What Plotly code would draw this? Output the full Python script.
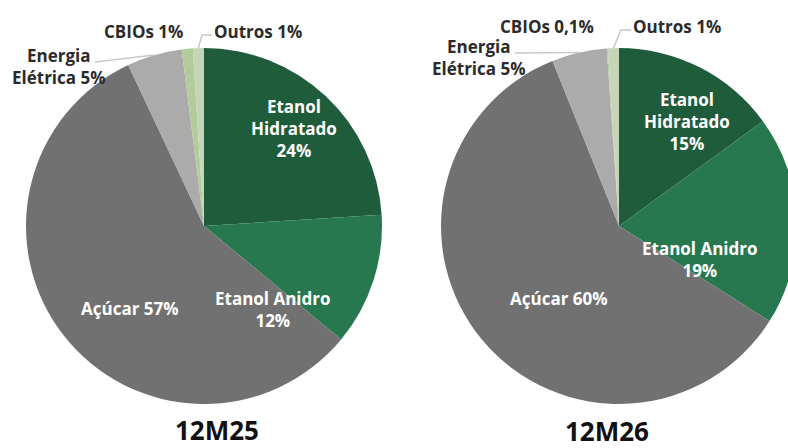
import math
import plotly.graph_objects as go

# ---------------- data ----------------
categories = ["Etanol Hidratado", "Etanol Anidro", "Açúcar", "Energia Elétrica", "CBIOs", "Outros"]
values_12m25 = [24, 12, 57, 5, 1, 1]
values_12m26 = [15, 19, 60, 5, 0.1, 1]
label_text_12m25 = ["Etanol<br>Hidratado<br>24%", "Etanol Anidro<br>12%", "Açúcar 57%",
                    "Energia<br>Elétrica 5%", "CBIOs 1%", "Outros 1%"]
label_text_12m26 = ["Etanol<br>Hidratado<br>15%", "Etanol Anidro<br>19%", "Açúcar 60%",
                    "Energia<br>Elétrica 5%", "CBIOs 0,1%", "Outros 1%"]
titles = ["12M25", "12M26"]

colors = ["#1f5c3c", "#27784e", "#717171", "#ababab", "#b3cc9b", "#c6d4b8"]

W, H = 800, 448
FONT = "Open Sans"

def px_x(x):
    return x / W

def px_y(y):
    return 1 - y / H

# pie geometry (pixels): centre and radius
pies = [
    dict(cx=204, cy=226, r=178, vals=values_12m25, txt=label_text_12m25, title=titles[0],
         lab=[(294, 128), (273, 309), (130, 308), (59, 67), (143, 32), (258, 32)],
         tpos=(217, 430)),
    dict(cx=619, cy=226, r=178, vals=values_12m26, txt=label_text_12m26, title=titles[1],
         lab=[(687, 121), (700, 259), (559, 298), (479, 58), (547, 27), (677, 27)],
         tpos=(607, 431)),
]

fig = go.Figure()
annotations = []
shapes = []

for p in pies:
    fig.add_trace(go.Pie(
        labels=categories, values=p["vals"], sort=False, direction="clockwise", rotation=0,
        marker=dict(colors=colors, line=dict(width=0)), textinfo="none", showlegend=False,
        hoverinfo="label+percent",
        domain=dict(x=[px_x(p["cx"] - p["r"]), px_x(p["cx"] + p["r"])],
                    y=[px_y(p["cy"] + p["r"]), px_y(p["cy"] - p["r"])]),
    ))
    total = sum(p["vals"])
    cum = 0
    mids = []
    for v in p["vals"]:
        mids.append((cum + v / 2) / total * 2 * math.pi)
        cum += v
    for i, (t, (lx, ly)) in enumerate(zip(p["txt"], p["lab"])):
        inside = i < 3
        annotations.append(dict(
            x=px_x(lx), y=px_y(ly), xref="paper", yref="paper", text=t, showarrow=False,
            xanchor="center", yanchor="middle", align="center",
            font=dict(family=FONT, size=17, color="white" if inside else "#2b2b2b", weight="bold"),
        ))
    # leader lines: Energia Elétrica and Outros
    def edge(i, rr=1.0):
        a = mids[i]
        return p["cx"] + rr * p["r"] * math.sin(a), p["cy"] - rr * p["r"] * math.cos(a)
    ex, ey = edge(3)
    lx, ly = p["lab"][3]
    sx, sy = lx + 36, ly - 5
    shapes.append(dict(type="line", xref="paper", yref="paper",
                       x0=px_x(sx), y0=px_y(sy), x1=px_x(ex), y1=px_y(ey),
                       line=dict(color="#c8c8c8", width=1.5)))
    ox, oy = edge(5)
    tx, ty = p["lab"][5]
    hx = tx - 46
    shapes.append(dict(type="path", xref="paper", yref="paper",
                       path=f"M {px_x(hx)} {px_y(ty + 3)} L {px_x(hx - 10)} {px_y(ty + 3)} L {px_x(ox)} {px_y(oy)}",
                       line=dict(color="#c8c8c8", width=1.5)))
    annotations.append(dict(
        x=px_x(p["tpos"][0]), y=px_y(p["tpos"][1]), xref="paper", yref="paper", text=p["title"],
        showarrow=False, xanchor="center", yanchor="middle",
        font=dict(family=FONT, size=26, color="#111111", weight="bold"),
    ))

fig.update_layout(
    width=W, height=H, margin=dict(l=0, r=0, t=0, b=0),
    paper_bgcolor="white", plot_bgcolor="white",
    annotations=annotations, shapes=shapes,
)

fig.write_html("out.html", config={"displayModeBar": False},
               post_script="document.body.style.overflow='hidden';document.body.style.margin='0';")
